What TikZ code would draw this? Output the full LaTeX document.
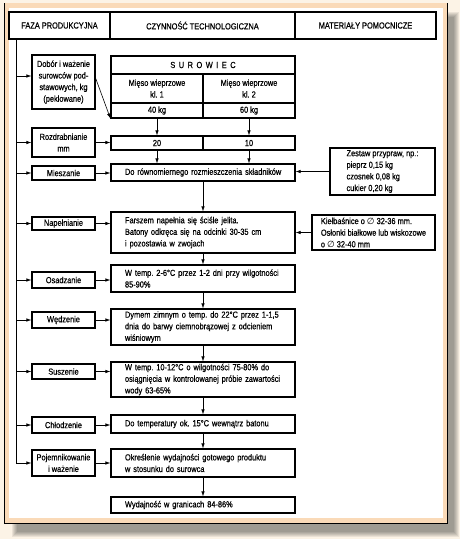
\documentclass[tikz,border=0pt]{standalone}
\usepackage{fontspec}
\setmainfont{Liberation Sans}[FakeStretch=0.84, FakeBold=0.5]
\newfontfamily\symfont{DejaVu Sans}
\usetikzlibrary{arrows.meta}

\definecolor{cream}{RGB}{252,243,230}
\definecolor{peach}{RGB}{250,218,184}
\newcommand{\dia}{{\symfont\char"2205}}

\tikzset{
  box/.style={draw, line width=1.1pt, inner sep=0pt, font=\fontsize{8.8}{11.6}\selectfont},
  phase/.style={box, align=center, minimum width=63pt},
  act/.style={box, align=left, text width=170pt, inner xsep=7pt,
    execute at begin node={\leftskip=7pt\relax}},
  cell/.style={box, align=center, minimum width=92pt},
  arr/.style={-{Latex[length=5pt,width=3.4pt]}, line width=0.6pt},
}

\begin{document}
\frenchspacing
\begin{tikzpicture}[x=1pt, y=-1pt]
  \useasboundingbox (0,0) rectangle (460,539);

  % tlo i ramka
  \fill[cream] (0,0) rectangle (460,539);
  \foreach \i in {0,...,5}
    \fill[black, opacity=0.07] (12+\i,12+\i) rectangle (459-\i,537-\i);
  \fill[peach] (4,3) rectangle (447,523);
  \draw[line width=0.8pt] (4.5,3) -- (4.5,523) -- (447,523) -- (447,3);
  \fill[white] (9,8) rectangle (443,518);

  % naglowek
  \node[box, minimum width=101pt, minimum height=27pt] (hfaza) at (59.5,25.5) {FAZA PRODUKCYJNA};
  \node[box, minimum width=185pt, minimum height=27pt] (hczyn) at (202.5,25.5) {CZYNNOŚĆ TECHNOLOGICZNA};
  \node[box, minimum width=141pt, minimum height=27pt] (hmat) at (365.5,25.5) {MATERIAŁY POMOCNICZE};

  % surowiec
  \node[box, minimum width=184pt, minimum height=18pt] (sur) at (203,65) {\addfontfeature{LetterSpace=40}SUROWIEC};
  \node[cell, minimum height=29pt] (m1) at (157,88.5) {Mięso wieprzowe\\kl. 1};
  \node[cell, minimum height=29pt] (m2) at (249,88.5) {Mięso wieprzowe\\kl. 2};
  \node[cell, minimum height=15pt] (k1) at (157,110.5) {40 kg};
  \node[cell, minimum height=15pt] (k2) at (249,110.5) {60 kg};
  \node[cell, minimum height=14pt] (r1) at (157,143) {20};
  \node[cell, minimum height=14pt] (r2) at (249,143) {10};

  % fazy
  \node[phase, minimum height=54pt] (dob) at (63.5,82) {Dobór i ważenie\\surowców pod-\\stawowych, kg\\(peklowane)};
  \node[phase, minimum height=29pt] (roz) at (63.5,142.5) {Rozdrabnianie\\mm};
  \node[phase, minimum height=14pt] (mies) at (63.5,173) {Mieszanie};
  \node[phase, minimum height=13pt] (nap) at (63.5,223.5) {Napełnianie};
  \node[phase, minimum height=16pt] (osa) at (63.5,280) {Osadzanie};
  \node[phase, minimum height=16pt] (wed) at (63.5,320) {Wędzenie};
  \node[phase, minimum height=15pt] (sus) at (63.5,371.5) {Suszenie};
  \node[phase, minimum height=16pt] (chl) at (63.5,425) {Chłodzenie};
  \node[phase, minimum height=26pt] (poj) at (63.5,463) {Pojemnikowanie\\i ważenie};

  % czynnosci
  \node[act, minimum height=17pt] (miesc) at (203,172.5) {Do równomiernego rozmieszczenia składników};
  \node[act, minimum height=41pt] (napc) at (203,232.5) {Farszem napełnia się ściśle jelita.\\Batony odkręca się na odcinki 30-35 cm\\i pozostawia w zwojach};
  \node[act, minimum height=27pt] (osac) at (203,278.5) {W temp. 2-6°C przez 1-2 dni przy wilgotności\\85-90\%};
  \node[act, minimum height=36pt] (wedc) at (203,327) {Dymem zimnym o temp. do 22°C przez 1-1,5\\dnia do barwy ciemnobrązowej z odcieniem\\wiśniowym};
  \node[act, minimum height=35pt] (susc) at (203,379.5) {W temp. 10-12°C o wilgotności 75-80\% do\\osiągnięcia w kontrolowanej próbie zawartości\\wody 63-65\%};
  \node[act, minimum height=18pt] (chlc) at (203,424) {Do temperatury ok. 15°C wewnątrz batonu};
  \node[act, minimum height=28pt] (pojc) at (203,463) {Określenie wydajności gotowego produktu\\w stosunku do surowca};
  \node[act, minimum height=16pt] (wyd) at (203,505) {Wydajność w granicach 84-86\%};

  % materialy pomocnicze
  \node[box, align=left, minimum width=105pt, minimum height=47pt] (zest) at (382.5,171.5) {Zestaw przypraw, np.:\\pieprz 0,15 kg\\czosnek 0,08 kg\\cukier 0,20 kg};
  \node[box, align=left, minimum width=123pt, minimum height=35pt] (kielb) at (373.5,232.5) {Kiełbaśnice o \dia{} 32-36 mm.\\Osłonki białkowe lub wiskozowe\\o \dia{} 32-40 mm};

  % linia fazy
  \coordinate (spine) at (16,39);
  \coordinate (dobin) at ([yshift=6pt]dob.west);
  \draw[line width=0.5pt] (spine) -- (spine |- poj.west);
  \draw[arr] (spine |- dobin) -- (dobin);
  \foreach \f in {roz,mies,nap,osa,wed,sus,chl,poj}
    \draw[arr] (spine |- \f.west) -- (\f.west);

  % fazy -> czynnosci
  \draw[arr] ([yshift=4pt]dob.east) -- (k1.south west);
  \draw[arr] (roz.east) -- (roz.east -| r1.west);
  \foreach \f/\c in {mies/miesc,nap/napc,osa/osac,wed/wedc,sus/susc,chl/chlc,poj/pojc}
    \draw[arr] (\f.east) -- (\f.east -| \c.west);

  % przeplyw
  \draw[arr] (k1.south) -- (r1.north);
  \draw[arr] (k2.south) -- (r2.north);
  \draw[arr] (r1.south) -- (r1.south |- miesc.north);
  \draw[arr] (r2.south) -- (r2.south |- miesc.north);
  \draw[arr] (miesc.south) -- (napc.north);
  \draw[arr] (napc.south) -- (osac.north);
  \draw[arr] (osac.south) -- (wedc.north);
  \draw[arr] (wedc.south) -- (susc.north);
  \draw[arr] (susc.south) -- (chlc.north);
  \draw[arr] (chlc.south) -- (pojc.north);
  \draw[arr] (pojc.south) -- (wyd.north);

  % materialy -> czynnosci
  \draw[arr] (zest.west) -- (zest.west -| miesc.east);
  \draw[arr] (kielb.west) -- (kielb.west -| napc.east);
\end{tikzpicture}
\end{document}
